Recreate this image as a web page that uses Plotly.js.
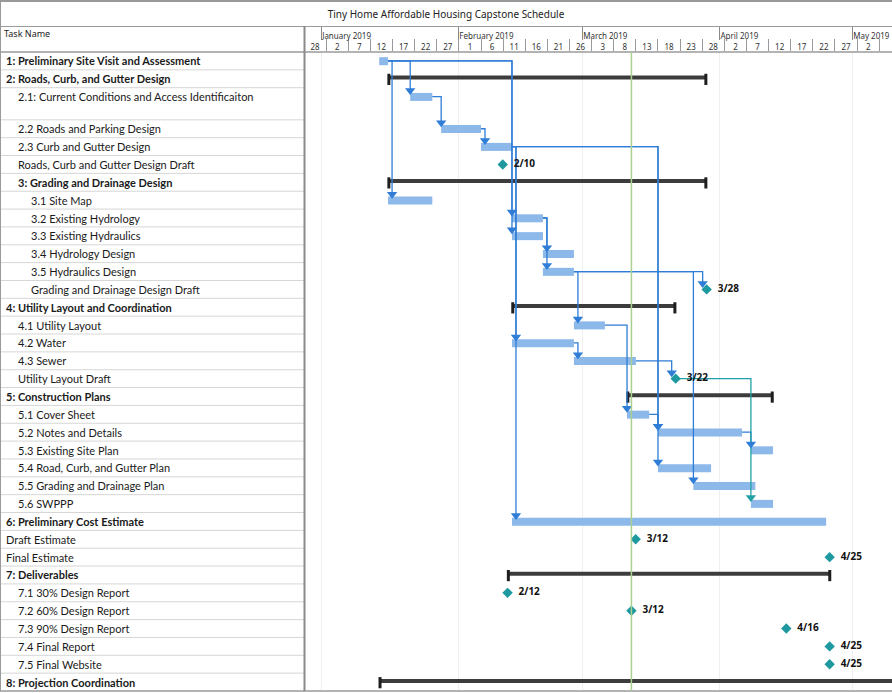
<!DOCTYPE html>
<html><head><meta charset="utf-8">
<script src="https://cdn.plot.ly/plotly-3.0.1.min.js"></script>
<style>html,body{margin:0;padding:0;background:#fff}#chart{width:892px;height:693px}</style>
</head><body><div id="chart"></div>
<script>
const chartTitle = 'Tiny Home Affordable Housing Capstone Schedule';
const columnHeader = 'Task Name';
const taskNames = [
 '1: Preliminary Site Visit and Assessment',
 '2: Roads, Curb, and Gutter Design',
 '2.1: Current Conditions and Access Identificaiton',
 '2.2 Roads and Parking Design',
 '2.3 Curb and Gutter Design',
 'Roads, Curb and Gutter Design Draft',
 '3: Grading and Drainage Design',
 '3.1 Site Map',
 '3.2 Existing Hydrology',
 '3.3 Existing Hydraulics',
 '3.4 Hydrology Design',
 '3.5 Hydraulics Design',
 'Grading and Drainage Design Draft',
 '4: Utility Layout and Coordination',
 '4.1 Utility Layout',
 '4.2 Water',
 '4.3 Sewer',
 'Utility Layout Draft',
 '5: Construction Plans',
 '5.1 Cover Sheet',
 '5.2 Notes and Details',
 '5.3 Existing Site Plan',
 '5.4 Road, Curb, and Gutter Plan',
 '5.5 Grading and Drainage Plan',
 '5.6 SWPPP',
 '6: Preliminary Cost Estimate',
 'Draft Estimate',
 'Final Estimate',
 '7: Deliverables',
 '7.1 30% Design Report',
 '7.2 60% Design Report',
 '7.3 90% Design Report',
 '7.4 Final Report',
 '7.5 Final Website',
 '8: Projection Coordination'
];
const taskIndent = [0,0,1,1,1,1,1,2,2,2,2,2,2,0,1,1,1,1,0,1,1,1,1,1,1,0,0,0,0,1,1,1,1,1,0];
const taskBold   = [1,1,0,0,0,0,1,0,0,0,0,0,0,1,0,0,0,0,1,0,0,0,0,0,0,1,0,0,1,0,0,0,0,0,1];
const taskKind = ['task','summary','task','task','task','milestone','summary','task','task','task','task','task','milestone',
  'summary','task','task','task','milestone','summary','task','task','task','task','task','task','task','milestone','milestone',
  'summary','milestone','milestone','milestone','milestone','milestone','summary'];
const taskStart = ['2019-01-14','2019-01-16','2019-01-21','2019-01-28','2019-02-06','2019-02-10 22:00','2019-01-16','2019-01-16',
  '2019-02-13','2019-02-13','2019-02-20','2019-02-20','2019-03-29 00:00','2019-02-13','2019-02-27','2019-02-13','2019-02-27',
  '2019-03-22','2019-03-11','2019-03-11','2019-03-18','2019-04-08','2019-03-18','2019-03-26','2019-04-08','2019-02-13',
  '2019-03-12 23:00','2019-04-25 19:00','2019-02-12','2019-02-12','2019-03-12','2019-04-16','2019-04-25 19:00','2019-04-25 19:00','2019-01-14'];
const taskFinish = ['2019-01-16','2019-03-29','2019-01-26','2019-02-06','2019-02-13','2019-02-10 22:00','2019-03-29','2019-01-26',
  '2019-02-20','2019-02-20','2019-02-27','2019-02-27','2019-03-29 00:00','2019-03-22','2019-03-06','2019-02-27','2019-03-13',
  '2019-03-22','2019-04-13','2019-03-16','2019-04-06','2019-04-13','2019-03-30','2019-04-09','2019-04-13','2019-04-25',
  '2019-03-12 23:00','2019-04-25 19:00','2019-04-26','2019-02-12','2019-03-12','2019-04-16','2019-04-25 19:00','2019-04-25 19:00','2019-05-20'];
const milestoneLabel = [null,null,null,null,null,'2/10',null,null,null,null,null,null,'3/28',null,null,null,null,'3/22',
  null,null,null,null,null,null,null,null,'3/12','4/25',null,'2/12','3/12','4/16','4/25','4/25',null];
const linkFrom = [0,0,0,0,2,3,4,4,4,4,8,8,11,11,11,14,15,16,17,19,20];
const linkTo   = [2,7,8,9,3,4,15,25,20,22,10,11,12,14,23,19,16,17,24,20,21];
const statusDate = '2019-03-12';
const dayCellStarts = ['2018-12-28','2019-01-02','2019-01-07','2019-01-12','2019-01-17','2019-01-22','2019-01-27','2019-02-01',
  '2019-02-06','2019-02-11','2019-02-16','2019-02-21','2019-02-26','2019-03-03','2019-03-08','2019-03-13','2019-03-18',
  '2019-03-23','2019-03-28','2019-04-02','2019-04-07','2019-04-12','2019-04-17','2019-04-22','2019-04-27','2019-05-02','2019-05-07'];
const dayCellLabels = ['28','2','7','12','17','22','27','1','6','11','16','21','26','3','8','13','18','23','28','2','7','12','17','22','27','2','7'];

// ---------- geometry / styling ----------
const W = 892, H = 693, TOP = 26, BOT = 691, HEAD = 52, SPLIT = 305;
const DAY = 864e5;
const ms = s => Date.parse(s.length <= 10 ? s + 'T00:00:00Z' : s.replace(' ', 'T') + 'Z');
const xr0 = '2018-12-28 05:25', xr1 = '2019-05-09 21:15';
const pxPerMs = (W - SPLIT) / (ms(xr1) - ms(xr0));
const N = taskNames.length;
const rowTop = taskNames.map((_, i) => i + (i >= 3 ? 0.8 : 0));
const rowH = taskNames.map((_, i) => (i === 2 ? 1.8 : 1));
const rowC = rowTop.map(v => v + 0.5);
const yMax = rowTop[N - 1] + rowH[N - 1];
const pitch = (BOT - HEAD) / yMax;
const py = px => (BOT - px) / (BOT - TOP);
const gapMs = 4 / pxPerMs;
const BLUE = '#2f7dd6', TEAL = '#23a0a6', BAR = '#8cb8ea', SUM = '#3c3c3c', DIA = '#1f99a0';

const traces = [];
// task bars
const tI = taskNames.map((_, i) => i).filter(i => taskKind[i] === 'task');
traces.push({type:'bar', orientation:'h', xaxis:'x', yaxis:'y',
  y: tI.map(i => rowC[i] + 0.3 / pitch), base: tI.map(i => taskStart[i]),
  x: tI.map(i => ms(taskFinish[i]) - ms(taskStart[i])),
  width: 8 / pitch, marker:{color:BAR, line:{width:0}}, hoverinfo:'skip', showlegend:false});
// summary bars
const sI = taskNames.map((_, i) => i).filter(i => taskKind[i] === 'summary');
traces.push({type:'bar', orientation:'h', xaxis:'x', yaxis:'y',
  y: sI.map(i => rowC[i] - 1.2 / pitch), base: sI.map(i => taskStart[i]),
  x: sI.map(i => ms(taskFinish[i]) - ms(taskStart[i])),
  width: 4 / pitch, marker:{color:SUM, line:{width:0}}, hoverinfo:'skip', showlegend:false});
traces.push({type:'scatter', mode:'markers', xaxis:'x', yaxis:'y',
  x: sI.flatMap(i => [ms(taskStart[i]) + 0.8 / pxPerMs, ms(taskFinish[i]) - 0.8 / pxPerMs]),
  y: sI.flatMap(i => [rowC[i] + 0.6 / pitch, rowC[i] + 0.6 / pitch]),
  marker:{symbol:'line-ns', size:8, line:{width:3, color:'#1e1e1e'}}, hoverinfo:'skip', showlegend:false});
// connectors
const paths = {blue:{x:[], y:[]}, teal:{x:[], y:[]}};
const arrows = {x:[], y:[], c:[]};
linkFrom.forEach((p, k) => {
  const s = linkTo[k];
  const pEnd = ms(taskFinish[p]);
  const sStart = taskKind[s] === 'milestone' ? ms(taskStart[s]) - gapMs : ms(taskStart[s]);
  const ax = Math.max(pEnd + gapMs, sStart);
  const ay = rowC[s] - 6 / pitch;
  const key = taskKind[p] === 'milestone' ? 'teal' : 'blue';
  paths[key].x.push(pEnd, ax, ax, null);
  paths[key].y.push(rowC[p], rowC[p], ay, null);
  arrows.x.push(ax); arrows.y.push(ay); arrows.c.push(key === 'teal' ? TEAL : BLUE);
});
traces.push({type:'scatter', mode:'lines', xaxis:'x', yaxis:'y', x:paths.blue.x, y:paths.blue.y,
  line:{color:BLUE, width:1.3}, hoverinfo:'skip', showlegend:false, connectgaps:false});
traces.push({type:'scatter', mode:'lines', xaxis:'x', yaxis:'y', x:paths.teal.x, y:paths.teal.y,
  line:{color:TEAL, width:1.3}, hoverinfo:'skip', showlegend:false, connectgaps:false});
traces.push({type:'scatter', mode:'markers', xaxis:'x', yaxis:'y', x:arrows.x, y:arrows.y,
  marker:{symbol:'triangle-down', size:9, color:arrows.c, line:{width:0}}, hoverinfo:'skip', showlegend:false});
// milestones
const mI = taskNames.map((_, i) => i).filter(i => taskKind[i] === 'milestone');
traces.push({type:'scatter', mode:'markers+text', xaxis:'x', yaxis:'y',
  x: mI.map(i => taskStart[i]), y: mI.map(i => rowC[i]), text: mI.map(i => milestoneLabel[i]),
  texttemplate:'\u2002%{text}',
  textposition:'middle right', textfont:{family:'Noto Sans', size:10, color:'#111', weight:'bold'},
  marker:{symbol:'diamond', size:8, color:DIA, line:{width:0}}, hoverinfo:'skip', showlegend:false, cliponaxis:false});
// dummy for month axis
traces.push({type:'scatter', mode:'lines', xaxis:'x2', yaxis:'y', x:[xr0, xr1], y:[null, null], hoverinfo:'skip', showlegend:false});

// shapes
const shapes = [];
const line = (o) => shapes.push(Object.assign({type:'line', layer:'above'}, o));
for (let i = 1; i < N; i++) line({xref:'paper', yref:'y', x0:0, x1:SPLIT / W, y0:rowTop[i], y1:rowTop[i], line:{color:'#d6d6d6', width:1}});
line({xref:'paper', yref:'paper', x0:0, x1:1, y0:py(1), y1:py(1), line:{color:'#333', width:1}});
line({xref:'paper', yref:'paper', x0:0, x1:1, y0:py(26.5), y1:py(26.5), line:{color:'#9a9a9a', width:1}});
line({xref:'paper', yref:'paper', x0:0, x1:1, y0:py(52), y1:py(52), line:{color:'#9a9a9a', width:1.5}});
line({xref:'paper', yref:'paper', x0:0, x1:1, y0:py(691), y1:py(691), line:{color:'#9a9a9a', width:1.5}});
line({xref:'paper', yref:'paper', x0:0.5 / W, x1:0.5 / W, y0:py(1), y1:py(691), line:{color:'#9a9a9a', width:1}});
line({xref:'paper', yref:'paper', x0:(SPLIT - 0.5) / W, x1:(SPLIT - 0.5) / W, y0:py(26), y1:py(691), line:{color:'#8a8a8a', width:2}});
line({xref:'x', yref:'y', x0:statusDate, x1:statusDate, y0:0, y1:yMax, line:{color:'#a9d08e', width:1.5}});

// annotations
const indentPx = [3.5, 16, 28.5];
const annotations = taskNames.map((name, i) => ({
  xref:'paper', yref:'y', x:indentPx[taskIndent[i]] / W, y:rowC[i], xanchor:'left', yanchor:'middle', showarrow:false,
  text: taskBold[i] ? '<b>' + name + '</b>' : name,
  font:{family:'Lato', size:11, color:'#1a1a1a'}}));
annotations.push({xref:'paper', yref:'paper', x:2 / W, y:py(33), xanchor:'left', yanchor:'middle', showarrow:false,
  text:columnHeader, font:{family:'Noto Sans', size:9, color:'#222'}});

const layout = {
  width:W, height:H, margin:{l:0, r:0, t:TOP, b:H - BOT, pad:0},
  paper_bgcolor:'#fff', plot_bgcolor:'#fff', barmode:'overlay', hovermode:false, showlegend:false,
  title:{text:chartTitle, x:0.5, xanchor:'center', xref:'container', y:1 - 14 / H, yref:'container', yanchor:'middle',
    font:{family:'Noto Sans', size:10, color:'#222'}},
  xaxis:{type:'date', domain:[SPLIT / W, 1], range:[xr0, xr1], side:'top', anchor:'y',
    tickmode:'array', tickvals: dayCellStarts.map(d => ms(d) + 2.5 * DAY), ticktext: dayCellLabels,
    ticks:'', tickfont:{family:'Noto Sans', size:8, color:'#333'}, ticklabelstandoff:-1,
    minor:{tickmode:'array', tickvals: dayCellStarts, ticks:'outside', ticklen:12, tickcolor:'#9a9a9a', tickwidth:1, showgrid:false},
    showgrid:false, showline:false, zeroline:false, fixedrange:true},
  xaxis2:{type:'date', overlaying:'x', domain:[SPLIT / W, 1], range:[xr0, xr1], side:'top', anchor:'free', position:1,
    tick0:'2019-01-01', dtick:'M1', tickformat:'%B %Y', ticks:'inside', ticklen:13, tickcolor:'#8a8a8a', tickwidth:1,
    ticklabelposition:'inside right', tickfont:{family:'Noto Sans', size:8, color:'#333'},
    showgrid:true, gridcolor:'#efefef', gridwidth:1, showline:false, zeroline:false, fixedrange:true},
  yaxis:{domain:[0, py(HEAD)], range:[yMax, 0], showticklabels:false, ticks:'', showgrid:false, zeroline:false, showline:false, fixedrange:true},
  shapes, annotations
};
Plotly.newPlot('chart', traces, layout, {displayModeBar:false, staticPlot:true});
</script></body></html>
